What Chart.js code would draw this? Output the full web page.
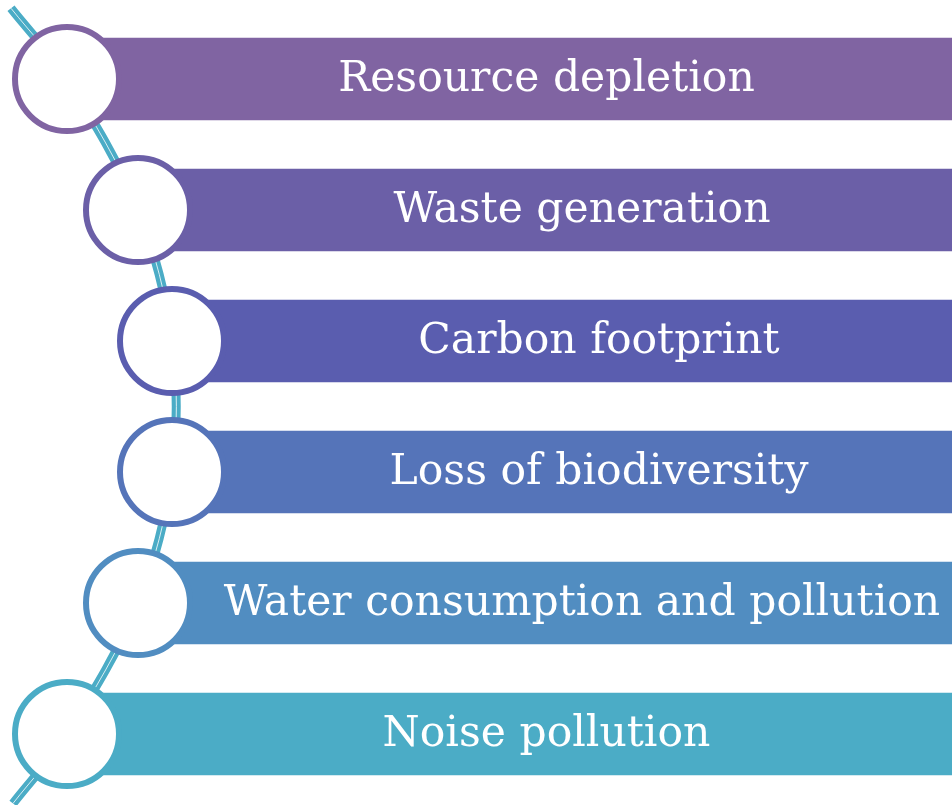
<!DOCTYPE html>
<html>
<head>
<meta charset="utf-8">
<script src="https://cdn.jsdelivr.net/npm/chart.js@4.4.1/dist/chart.umd.min.js"></script>
<style>
  body { margin: 0; background: #fff; }
  canvas { display: block; }
</style>
</head>
<body>
<canvas id="steps" width="952" height="805"></canvas>
<script>
// items, top to bottom
const labels = ['Resource depletion', 'Waste generation', 'Carbon footprint',
  'Loss of biodiversity', 'Water consumption and pollution', 'Noise pollution']
const rows = [0, 1, 2, 3, 4, 5]
// how far each circle sits along the curve (x, px units)
const circleX = [67, 138, 172, 172, 138, 67]
const barEnd = [952, 952, 952, 952, 952, 952]
// the teal curve: top end, circle centres, bottom end
const curveX = [11, 67, 138, 172, 172, 138, 67, 13]
const curveY = [-0.54, 0, 1, 2, 3, 4, 5, 5.53]

const colors = ['#8064A2', '#6B5FA7', '#5A5DAF', '#5574B9', '#518DC1', '#4BACC6']
const teal = '#4BACC6'

const barData = rows.map((r, i) => ({ x: [circleX[i], barEnd[i]], y: r }))
const circleData = rows.map((r, i) => ({ x: circleX[i], y: r }))
const curveData = curveX.map((x, i) => ({ x: x, y: curveY[i] }))

const CIRCLE_R = 52

const labelPlugin = {
  id: 'barText',
  afterDatasetsDraw(chart) {
    const ctx = chart.ctx
    const xs = chart.scales.x
    const ys = chart.scales.y
    ctx.save()
    ctx.fillStyle = '#ffffff'
    ctx.font = '42.5px "DejaVu Serif"'
    ctx.textAlign = 'center'
    ctx.textBaseline = 'middle'
    labels.forEach((txt, i) => {
      const left = xs.getPixelForValue(circleX[i]) + CIRCLE_R + 22
      const right = xs.getPixelForValue(barEnd[i])
      ctx.fillText(txt, (left + right) / 2, ys.getPixelForValue(rows[i]) + 1)
    })
    ctx.restore()
  }
}

const config = {
  type: 'bar',
  data: {
    datasets: [{
      type: 'bubble',
      data: circleData,
      radius: CIRCLE_R,
      backgroundColor: '#ffffff',
      borderColor: colors,
      borderWidth: 6,
      order: 0
    },
    {
      type: 'bar',
      data: barData,
      backgroundColor: colors,
      barThickness: 82,
      order: 1
    },
    {
      type: 'line',
      data: curveData,
      borderColor: '#ffffff',
      borderWidth: 0.8,
      pointRadius: 0,
      tension: 0.35,
      fill: false,
      order: 2
    },
    {
      type: 'line',
      data: curveData,
      borderColor: teal,
      borderWidth: 9,
      pointRadius: 0,
      tension: 0.35,
      fill: false,
      order: 3
    }]
  },
  options: {
    indexAxis: 'y',
    responsive: false,
    animation: false,
    events: [],
    layout: { padding: 0, autoPadding: false },
    scales: {
      x: { type: 'linear', min: 0, max: 952, offset: false, display: false },
      y: { type: 'linear', min: -79 / 131, max: 726 / 131, reverse: true, offset: false, display: false }
    },
    plugins: {
      legend: { display: false },
      tooltip: { enabled: false }
    }
  },
  plugins: [labelPlugin]
}

new Chart(document.getElementById('steps').getContext('2d'), config)
</script>
</body>
</html>
